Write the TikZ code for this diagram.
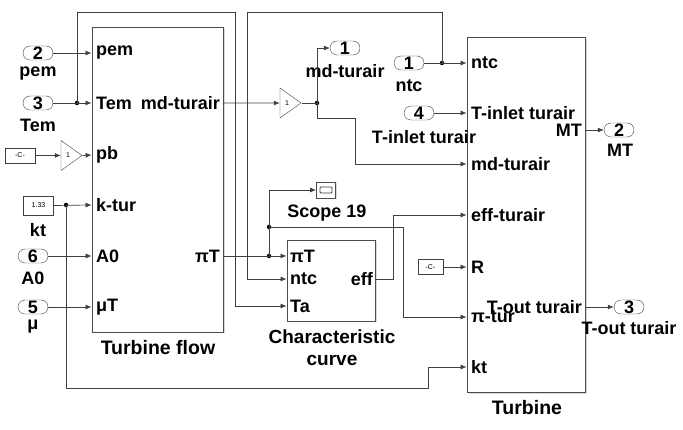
\documentclass[tikz,border=0pt]{standalone}
\usepackage{fontspec}
\setmainfont{Liberation Sans}
\usetikzlibrary{arrows.meta,shapes.geometric,shadows}

\begin{document}
\begin{tikzpicture}[x=1pt, y=-1pt,
  block/.style={draw=black!70, fill=white, line width=0.8pt,
                drop shadow={shadow xshift=1.5pt, shadow yshift=-1.5pt, opacity=0.3}},
  inport/.style={draw=black!75, rounded corners=7pt, minimum width=30pt, minimum height=14pt,
                 inner sep=0pt, font=\fontsize{18}{18}\selectfont\bfseries},
  const/.style={draw=black!75, fill=white, minimum width=30pt, minimum height=15pt, inner sep=0pt,
                font=\fontsize{7}{7}\selectfont},
  gain/.style={draw=black!75, isosceles triangle, isosceles triangle stretches,
               minimum width=30pt, minimum height=21pt, inner sep=0pt,
               font=\fontsize{7}{7}\selectfont},
  lbl/.style={inner sep=0pt, font=\fontsize{18}{20}\selectfont\bfseries},
  pin/.style={lbl, anchor=west},
  pout/.style={lbl, anchor=east},
  dot/.style={circle, fill=black, inner sep=0pt, minimum size=4.5pt},
  wire/.style={->, >={Latex[length=6pt,width=5pt]}, line width=0.7pt, draw=black!75},
  line/.style={line width=0.7pt, draw=black!75}
]
  \useasboundingbox (0,0) rectangle (683,430);

  % blocks
  \node[block, minimum width=131pt, minimum height=305pt] (tflow) at (157.5,179.5) {};
  \node[lbl, font=\fontsize{19.5}{21}\selectfont\bfseries] (tflow-name) at (158,348) {Turbine flow};
  \node[pin] (tf-pem) at (96,53) {pem};
  \node[pin] (tf-tem) at (96,103) {Tem};
  \node[pin] (tf-pb) at (96,155) {pb};
  \node[pin] (tf-ktur) at (96,205) {k-tur};
  \node[pin] (tf-a0) at (96,256) {A0};
  \node[pin] (tf-mut) at (96,307) {μT};
  \node[pout] (tf-md) at (220,103) {md-turair};
  \node[pout] (tf-pit) at (220,256) {πT};

  \node[block, minimum width=88pt, minimum height=81pt] (cc) at (331,280.5) {};
  \node[lbl, align=center, font=\fontsize{19}{22}\selectfont\bfseries] (cc-name) at (332,348) {Characteristic\\curve};
  \node[pin] (cc-pit) at (290,256) {πT};
  \node[pin] (cc-ntc) at (290,279) {ntc};
  \node[pin] (cc-ta) at (290,306) {Ta};
  \node[pout] (cc-eff) at (373,279) {eff};

  \node[block, minimum width=118pt, minimum height=355pt] (tb) at (526,214.5) {};
  \node[lbl, font=\fontsize{19.5}{21}\selectfont\bfseries] (tb-name) at (527,408) {Turbine};
  \node[pin] (tb-ntc) at (471,63) {ntc};
  \node[pin] (tb-tin) at (471,113) {T-inlet turair};
  \node[pin] (tb-md) at (471,164) {md-turair};
  \node[pin] (tb-eff) at (471,215) {eff-turair};
  \node[pin] (tb-r) at (471,267) {R};
  \node[pin] (tb-pitur) at (471,317) {π-tur};
  \node[pin] (tb-kt) at (471,367) {kt};
  \node[pout] (tb-mt) at (582,130) {MT};
  \node[pout] (tb-tout) at (582,307) {T-out turair};

  % sources and sinks
  \node[inport] (in2) at (38,53) {2};
  \node[lbl] (in2-lbl) at (38,74) {pem};
  \node[inport] (in3) at (38,103) {3};
  \node[lbl] (in3-lbl) at (38,125) {Tem};
  \node[const] (c1) at (20,155.5) {-C-};
  \node[gain] (g1) at (68,155.5) {1};
  \node[const, minimum height=19pt] (c133) at (38.5,205.5) {1.33};
  \node[lbl] (c133-lbl) at (38,230) {kt};
  \node[inport] (in6) at (33,256) {6};
  \node[lbl] (in6-lbl) at (33,278) {A0};
  \node[inport] (in5) at (33,307) {5};
  \node[lbl] (in5-lbl) at (33,327) {μ};

  \node[gain] (g2) at (287,103) {1};
  \node[inport] (out1) at (345,48) {1};
  \node[lbl] (out1-lbl) at (345,71) {md-turair};
  \node[inport] (in1) at (409,63) {1};
  \node[lbl] (in1-lbl) at (409,86) {ntc};
  \node[inport] (in4) at (419,113) {4};
  \node[lbl] (in4-lbl) at (424,137) {T-inlet turair};
  \node[block, minimum width=19pt, minimum height=16pt, inner sep=0pt,
        path picture={\draw[black!75, rounded corners=1pt]
          ([shift={(-6pt,-3pt)}]path picture bounding box.center) rectangle
          ([shift={(6pt,3pt)}]path picture bounding box.center);}] (scope) at (326,190) {};
  \node[lbl] (scope-lbl) at (327,213) {Scope 19};
  \node[const, minimum width=25pt] (c2) at (430.5,267) {-C-};
  \node[inport] (out2) at (619,130) {2};
  \node[lbl] (out2-lbl) at (620,150) {MT};
  \node[inport] (out3) at (629,307) {3};
  \node[lbl] (out3-lbl) at (629,328) {T-out turair};

  % junctions
  \node[dot] (j1) at (317,103) {};
  \node[dot] (j2) at (442,63) {};
  \node[dot] (j3) at (77,103) {};
  \node[dot] (j4) at (269,256) {};
  \node[dot] (j5) at (269,227) {};
  \node[dot] (j6) at (66,205) {};

  % wires
  \draw[wire] (in2.east) -- (tflow.west |- tf-pem);
  \draw[wire] (in3.east) -- (tflow.west |- tf-tem);
  \draw[wire] (c1.east) -- (g1.west);
  \draw[wire] (g1.east) -- (tflow.west |- tf-pb);
  \draw[wire] (c133.east) -- (tflow.west |- tf-ktur);
  \draw[wire] (in6.east) -- (tflow.west |- tf-a0);
  \draw[wire] (in5.east) -- (tflow.west |- tf-mut);
  \draw[wire] (j3.center) |- (235,12) |- (cc.west |- cc-ta);
  \draw[wire] (j6.center) |- (428,388) |- (tb.west |- tb-kt);

  \draw[wire] (tflow.east |- tf-md) -- (g2.west);
  \draw[line] (g2.east) -- (j1.center);
  \draw[wire] (j1.center) |- (out1.west);
  \draw[wire] (j1.center) |- (355,118) |- (tb.west |- tb-md);

  \draw[wire] (in1.east) -- (tb.west |- tb-ntc);
  \draw[wire] (j2.center) |- (247,12) |- (cc.west |- cc-ntc);
  \draw[wire] (in4.east) -- (tb.west |- tb-tin);

  \draw[line] (tflow.east |- tf-pit) -- (j4.center);
  \draw[wire] (j4.center) -- (cc.west |- cc-pit);
  \draw[line] (j4.center) -- (j5.center);
  \draw[wire] (j5.center) |- (scope.west);
  \draw[wire] (j5.center) -| (403,317) -- (tb.west |- tb-pitur);
  \draw[wire] (cc.east |- cc-eff) -| (393,215) -- (tb.west |- tb-eff);
  \draw[wire] (c2.east) -- (tb.west |- tb-r);

  \draw[wire] (tb.east |- tb-mt) -- (out2.west);
  \draw[wire] (tb.east |- tb-tout) -- (out3.west);
\end{tikzpicture}
\end{document}
